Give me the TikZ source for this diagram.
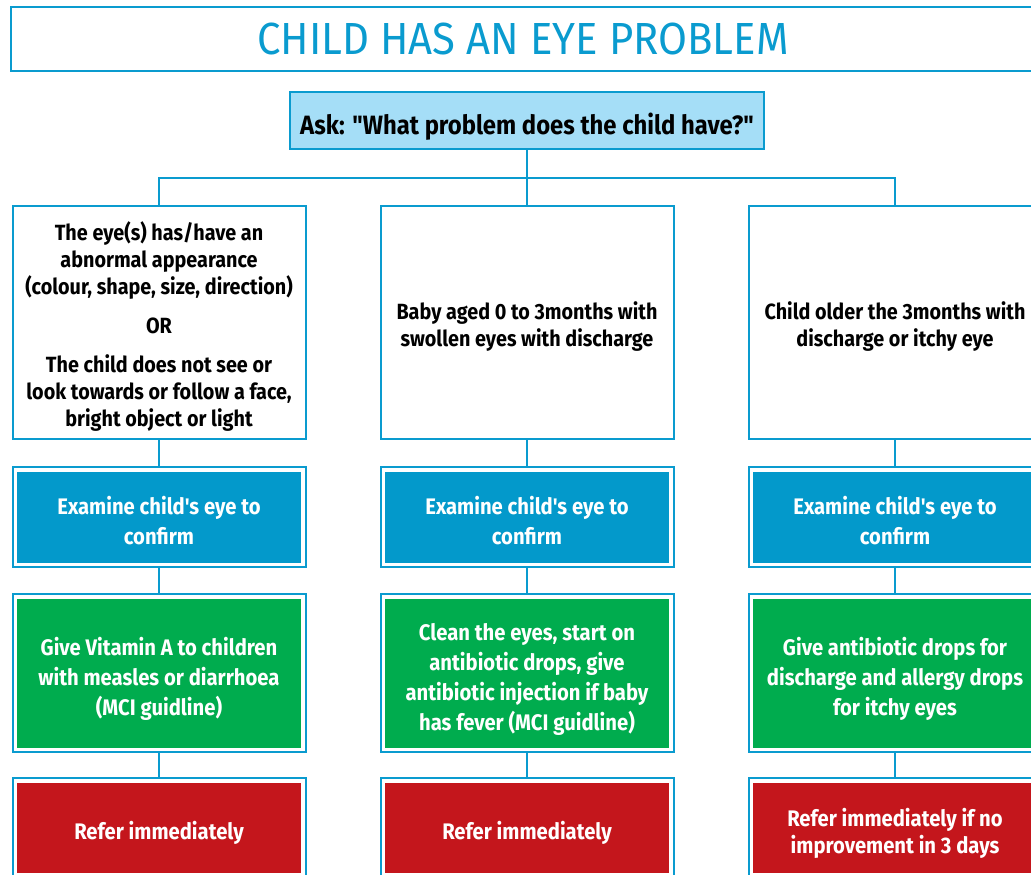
\documentclass[tikz,border=0pt]{standalone}
\usepackage{fontspec}
\setmainfont{Fira Sans}
\newfontfamily\boxfont{Fira Sans}[FakeStretch=0.9]
\newfontfamily\titlefont{Fira Sans}[FakeStretch=0.93]

\definecolor{linecol}{HTML}{0A9BCF}
\definecolor{askcol}{HTML}{A5DEF7}
\definecolor{examcol}{HTML}{0399CB}
\definecolor{givecol}{HTML}{00AC4E}
\definecolor{refercol}{HTML}{C4161C}

\newcommand{\lift}[1]{\rule{0pt}{#1}}

\tikzset{
  endstrut/.style={execute at end node={\rule[-8pt]{0pt}{8pt}}},
  framed/.style={fill=#1, draw=white, line width=3.5pt,
    preaction={draw=linecol, line width=7.5pt},
    outer sep=3.75pt, text=white, minimum width=287.5pt, endstrut},
  whitetext/.style={font=\boxfont\bfseries\fontsize{22}{27}\selectfont, endstrut},
  colortext/.style={font=\boxfont\bfseries\fontsize{22.5}{30}\selectfont},
  refertext/.style={font=\boxfont\bfseries\fontsize{22.5}{27}\selectfont}
}

\begin{document}
\begin{tikzpicture}[x=1pt,y=-1pt]
\useasboundingbox (0,0) rectangle (1031,875);

        \begin{scope}[every node/.style={draw=linecol,line width=2pt,align=center,inner sep=0pt}]
          \node[minimum width=1025pt,minimum height=64pt,text=linecol,
                font=\titlefont\fontsize{45}{54}\selectfont] (title) at (523,39) {CHILD HAS AN EYE PROBLEM};
          \node[fill=askcol,minimum width=474pt,minimum height=57pt,endstrut,
                font=\boxfont\bfseries\fontsize{26.5}{32}\selectfont] (ask) at (527,120.5) {\lift{35pt}Ask: "What problem does the child have?"};

          \node[whitetext,minimum width=293pt,minimum height=233pt] (look1) at (159,322.5)
            {\lift{29pt}The eye(s) has/have an\\abnormal appearance\\(colour, shape, size, direction)\\[12pt]OR\\[12pt]The child does not see or\\look towards or follow a face,\\bright object or light};
          \node[whitetext,minimum width=293pt,minimum height=233pt] (look2) at (527,322.5)
            {\lift{29pt}Baby aged 0 to 3months with\\swollen eyes with discharge};
          \node[whitetext,minimum width=293pt,minimum height=233pt] (look3) at (895,322.5)
            {\lift{29pt}Child older the 3months with\\discharge or itchy eye};

          \node[framed=examcol,colortext,minimum height=94.5pt] (exam1) at (159,517) {\lift{32pt}Examine child's eye to\\confirm};
          \node[framed=examcol,colortext,minimum height=94.5pt] (exam2) at (527,517) {\lift{32pt}Examine child's eye to\\confirm};
          \node[framed=examcol,colortext,minimum height=94.5pt] (exam3) at (895,517) {\lift{32pt}Examine child's eye to\\confirm};

          \node[framed=givecol,colortext,minimum height=152.5pt] (give1) at (159,673) {\lift{32pt}Give Vitamin A to children\\with measles or diarrhoea\\(MCI guidline)};
          \node[framed=givecol,colortext,minimum height=152.5pt] (give2) at (527,673) {\lift{32pt}Clean the eyes, start on\\antibiotic drops, give\\antibiotic injection if baby\\has fever (MCI guidline)};
          \node[framed=givecol,colortext,minimum height=152.5pt] (give3) at (895,673) {\lift{32pt}Give antibiotic drops for\\discharge and allergy drops\\for itchy eyes};

          \node[framed=refercol,refertext,minimum height=94pt] (refer1) at (159,827.75) {\lift{32pt}Refer immediately};
          \node[framed=refercol,refertext,minimum height=94pt] (refer2) at (527,827.75) {\lift{32pt}Refer immediately};
          \node[framed=refercol,refertext,minimum height=94pt] (refer3) at (895,827.75) {\lift{32pt}Refer immediately if no\\improvement in 3 days};
        \end{scope}

        \coordinate (split) at (527,178);

        \begin{scope}[linecol,line width=2pt]
          \draw (ask) -- (split);
          \draw (split) -| (look1);
          \draw (split) -| (look3);
          \draw (split) -- (look2);
          \draw (look1) -- (exam1);
          \draw (look2) -- (exam2);
          \draw (look3) -- (exam3);
          \draw (exam1) -- (give1);
          \draw (exam2) -- (give2);
          \draw (exam3) -- (give3);
          \draw (give1) -- (refer1);
          \draw (give2) -- (refer2);
          \draw (give3) -- (refer3);
        \end{scope}

      \end{tikzpicture}
\end{document}
